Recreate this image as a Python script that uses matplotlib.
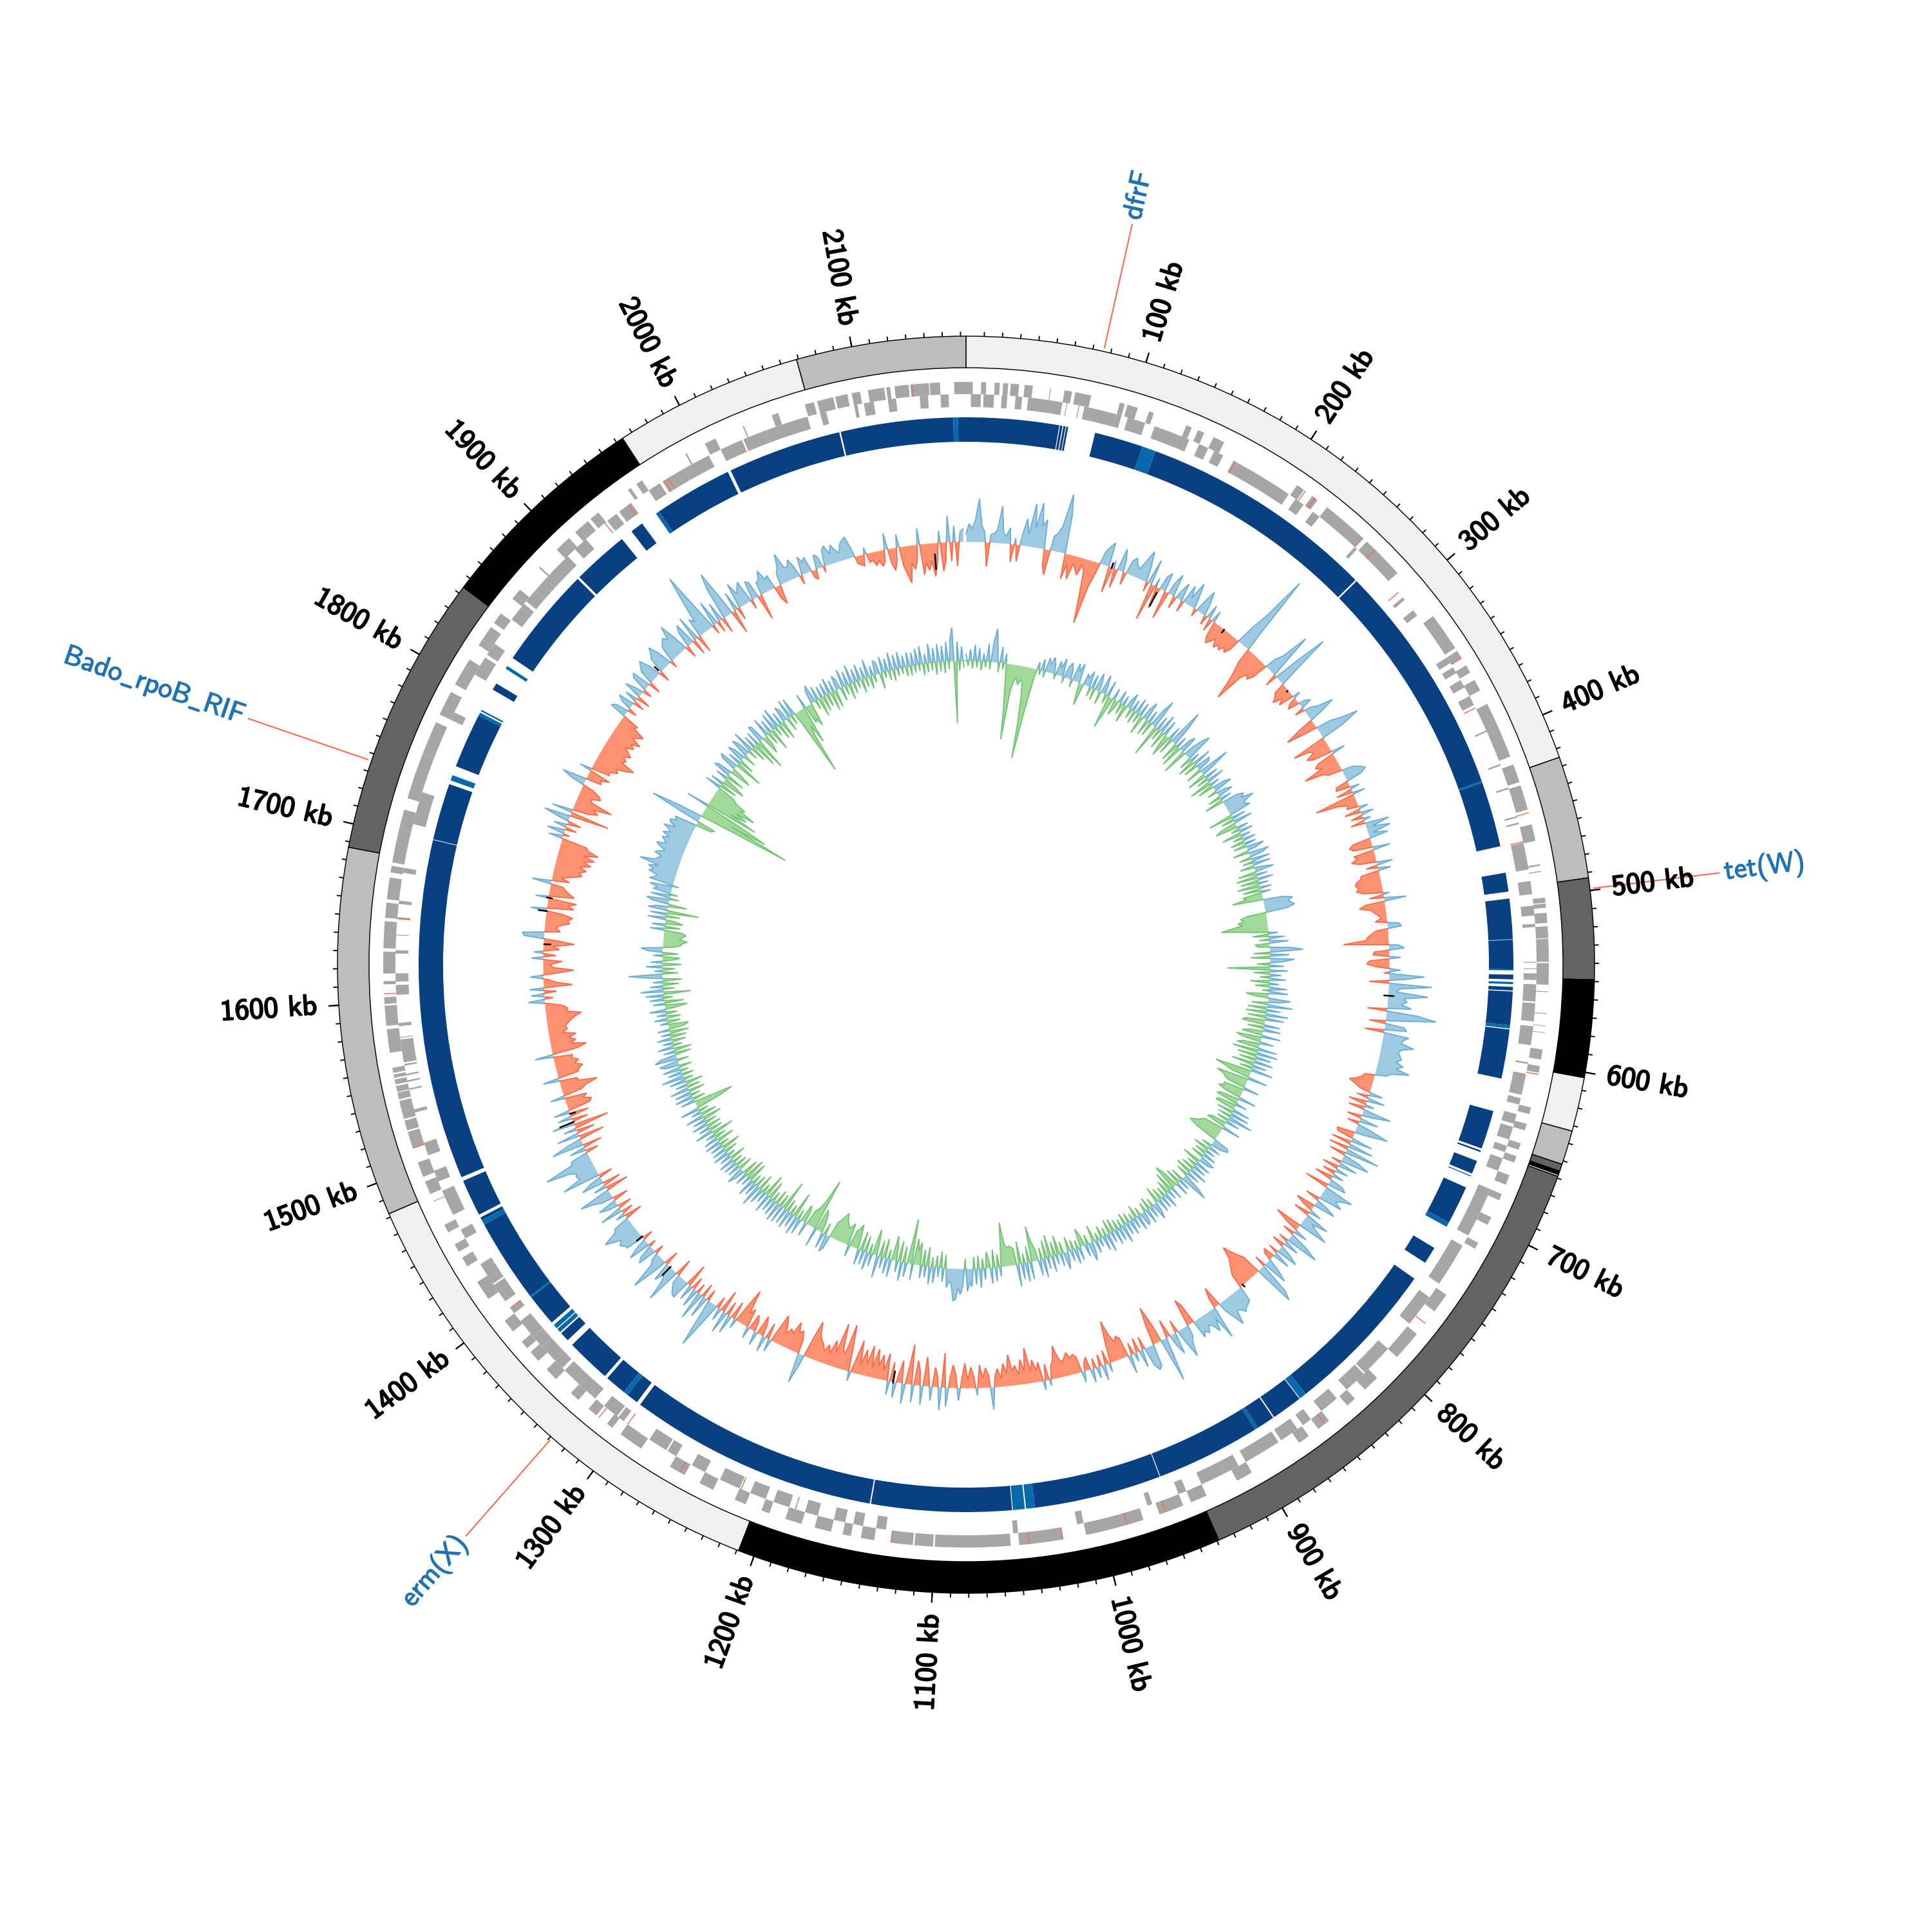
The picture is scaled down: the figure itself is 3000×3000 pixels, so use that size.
"""Circular genome map: contigs, gene lanes, homology blocks and two signal tracks."""
import matplotlib
matplotlib.use("Agg")
import matplotlib.pyplot as plt
import matplotlib.patheffects as pe
import numpy as np

GENOME_KB = 2163.0

contig_start = [0, 425, 493, 549, 603, 633, 652, 656, 658, 659, 939, 1209, 1482, 1687, 1844, 1964, 2069]
contig_end = [425, 493, 549, 603, 633, 652, 656, 658, 659, 939, 1209, 1482, 1687, 1844, 1964, 2069, 2163]
contig_shade = ["#f0f0f0", "#bdbdbd", "#636363", "#000000", "#f0f0f0", "#bdbdbd", "#636363", "#000000", "#ffffff",
                "#636363", "#000000", "#f0f0f0", "#bdbdbd", "#636363", "#000000", "#f0f0f0", "#bdbdbd"]

genes_outer = [(0, 4), (9, 12), (17, 20), (22, 25), (26.5, 31.5), (34.7, 39.6), (50, 50.5), (58.5, 63), (65, 74.5),
               (92, 95), (96.7, 103), (110, 113), (133.5, 137), (141, 145), (151, 158), (208, 213), (219, 223),
               (230, 258), (261, 287), (320, 343), (345, 350), (355, 360), (365, 372), (381, 415), (420, 431),
               (433, 448), (457, 467), (481, 482), (485, 485.6), (501, 504), (504.5, 507), (510, 516), (518, 525),
               (525.4, 539), (539.8, 552.6), (556.5, 557), (569.5, 570), (576.8, 577.2), (580.8, 581.2), (591, 597),
               (601, 605), (626, 630), (636, 640), (648, 652), (656, 660), (668, 674), (680, 684), (695, 700),
               (712, 716), (748, 760), (777, 795), (812, 822), (830, 836), (850, 858), (865, 872), (905, 915),
               (935, 945), (950, 965), (975, 1010), (1024, 1050), (1055, 1100), (1101, 1112), (1113, 1126),
               (1136, 1144), (1150, 1155), (1162, 1172), (1180, 1190), (1200, 1205), (1215, 1222), (1236, 1245),
               (1255, 1265), (1285, 1300), (1306, 1310), (1318, 1324), (1332, 1338), (1350, 1358), (1365, 1372),
               (1375, 1380), (1388, 1396), (1412, 1424), (1435, 1441), (1445, 1450), (1458, 1463), (1478, 1478.5),
               (1483, 1491), (1494, 1503), (1512, 1522), (1523, 1529), (1530, 1535), (1535, 1541), (1542, 1546),
               (1546.5, 1550), (1551, 1554), (1555, 1557), (1558, 1561), (1570, 1584), (1586, 1598), (1599, 1603),
               (1610.6, 1612.5), (1617, 1630), (1632, 1648), (1650, 1659), (1661, 1674), (1677, 1681), (1683, 1703),
               (1703, 1715), (1722, 1738), (1735, 1750), (1750, 1770), (1775, 1790), (1795, 1812), (1822, 1826),
               (1826, 1835), (1838, 1845), (1856, 1863), (1880, 1881), (1895, 1905), (1910, 1920), (1922, 1928),
               (1950, 1952), (1956, 1960), (1990, 1991), (2003, 2010), (2046, 2050), (2066.6, 2072), (2074, 2083.8),
               (2085, 2092.4), (2095, 2100), (2104.7, 2114.5), (2115.7, 2118), (2120.6, 2129), (2130, 2141),
               (2141.5, 2147.6), (2156, 2163)]
genes_inner = [(3, 9), (10.6, 17), (21.6, 25), (30, 34), (37.6, 58.5), (61, 61.5), (68.4, 69), (72, 92), (92, 95),
               (99, 110), (116, 132), (132, 138.5), (145, 151), (155, 161), (168, 207), (212, 218), (225, 230),
               (258, 260), (300, 302), (310, 314), (345, 349), (352, 356), (361, 366), (372, 378), (395, 396),
               (417, 418), (432, 433), (450, 451), (454, 455), (466.5, 467), (467, 483), (490, 498), (505, 511),
               (516, 518), (539, 539.5), (543, 543.5), (546, 550), (552.6, 563), (564, 575), (578, 589.5), (600, 601),
               (607, 620), (622, 626), (632, 638), (640, 648), (652, 656), (660, 668), (680, 711), (718, 745),
               (755, 775), (795, 815), (816, 826), (826, 830), (838, 850), (858, 864), (868, 880), (882, 905),
               (910, 920), (920, 935), (945, 950), (967, 970), (1010, 1014), (1050, 1053), (1130, 1136), (1144, 1150),
               (1155, 1162), (1172, 1180), (1190, 1200), (1205, 1215), (1222, 1235), (1245, 1254), (1265, 1271),
               (1272, 1284), (1303, 1307), (1308, 1318), (1325, 1337), (1337, 1350), (1352, 1358), (1358, 1370),
               (1370, 1378), (1378, 1390), (1396, 1400), (1405, 1417), (1418, 1432), (1450, 1456), (1466, 1482),
               (1488, 1495), (1505, 1513), (1532, 1534), (1546, 1547), (1551, 1552), (1555, 1556), (1561, 1562),
               (1563, 1577), (1578, 1578.5), (1585, 1587), (1604, 1610), (1612, 1617), (1629, 1631), (1640, 1640.5),
               (1650, 1651), (1659, 1661), (1678, 1681), (1708, 1728), (1775, 1780), (1806, 1818), (1820, 1828),
               (1846, 1858), (1860, 1868), (1868, 1878), (1878, 1897), (1903, 1912), (1929, 1936), (1938, 1947),
               (1960, 1968), (1970, 1985), (1985, 2002), (2010, 2024), (2025, 2040), (2040, 2066), (2074, 2077.7),
               (2095, 2097), (2101, 2107), (2115.7, 2120.6), (2135, 2140), (2147.6, 2152.5)]
red_genes_outer = [214, 221, 258, 268, 350, 450, 606, 769, 853, 961, 985, 1024, 1044, 1126, 1258, 1316, 1512, 1605, 2028, 2131]
red_genes_inner = [169, 296, 380, 466, 1186, 1221, 1300, 1400, 1650, 1927, 1945, 1971, 1974]

blocks_dark = [(0, 59), (59.5, 61), (61.6, 63), (63.5, 64.7), (82, 113), (121.6, 272.5), (273.5, 423), (424, 465.6),
               (482.6, 494.6), (499, 524.7), (525, 543.6), (547, 550), (554.7, 557), (557.6, 579), (581.6, 612.9),
               (634, 658.6), (660, 661), (667, 675.5), (677, 677.5), (685, 709.5), (728, 739), (751, 851), (856, 875.6),
               (876.4, 888), (890, 956.5), (957, 1038), (1052.5, 1141.6), (1142.4, 1301), (1303.5, 1311), (1314, 1327.5),
               (1329.5, 1358), (1362, 1368), (1377, 1397.5), (1398.5, 1452), (1455, 1457), (1459, 1482.5), (1485, 1701.4),
               (1701.8, 1738), (1750, 1785), (1803.5, 1808), (1827, 1891.5), (1893, 1929), (1936.7, 1945), (1958, 2008),
               (2010, 2082.5), (2083.5, 2155), (2158, 2163)]
blocks_light = [(113, 121.6), (423, 424), (543.6, 544.3), (551.6, 553), (579, 581), (709.5, 712.6), (851, 855.5),
                (888, 890), (1038, 1043.6), (1044.4, 1052), (1311, 1314), (1369, 1371.6), (1372.2, 1375), (1397.5, 1398.5),
                (1452, 1455), (1740.5, 1744), (1785, 1787), (1788, 1789), (1819, 1821), (1955.7, 1958), (2155, 2158)]

# signal tracks: one row per 100 kb, + is outward, - is inward (px)
skew_rows = [
    [12, 28, 20, 35, 67, 25, 15, -38, 12, 14, 20, 57, 16, 12, 25, -28, 10, -26, 16, 42, 18, 67, 30, 70, 35, 45, -25, -40, 22, 28, 40, 92, 60, -40, -15, -38, -12, -20, -28, -10],
    [-20, -60, -100, -40, -15, 20, 30, 38, -41, 12, -30, 35, 18, -20, 22, 28, 18, 15, 30, 48, 25, -15, 40, -58, 14, -35, 22, 30, -45, 18, 35, -20, 12, 28, -18, 30, 12, 40, 15, -12],
    [15, 38, 18, -15, 22, -20, 18, -25, -34, -28, -20, -32, -25, -30, -22, -28, -18, 30, 60, 130, 35, -25, -40, -60, -86, -40, -30, -35, -25, 18, 30, 74, 20, -20, 40, 91, 25, -18, -22, -30],
    [-15, -25, 12, -12, -18, 10, 18, -15, 12, 22, 45, 20, -25, -50, -20, 25, 40, 67, 38, -55, -30, -25, -40, -30, 22, -28, -35, -25, -58, -28, -22, 18, 28, 35, 25, -20, -22, 15, -25, 20],
    [-64, -30, -15, -18, 15, -25, 20, -18, 12, -22, 38, 10, 37, 8, 30, -28, -35, -30, 28, -32, -28, -38, -25, 25, -18, 20, -28, -30, -38, -40, -36, -40, -30, 10, -22, 35, -30, -40, -22, -18],
    [-12, -8, -18, 18, 22, -18, -25, -32, -35, -70, 15, 24, -22, -25, 18, -30, -35, -20, 18, -8, 55, 22, -30, 67, 18, 12, 62, 25, 30, 22, 38, -30, 50, 78, 28, -25, 30, 35, -30, 40],
    [32, 30, 50, 32, 28, 32, 35, 28, 40, 30, 52, 25, 18, -15, -18, -25, -36, -25, -15, 22, -18, 28, -28, 15, -25, 45, 18, -22, 30, -18, 22, 52, 18, -28, -25, 35, -30, 40, -30, 55],
    [-25, 25, 45, -15, 30, -25, 20, -20, 18, -28, 22, 30, -37, 48, 32, 25, 38, -22, 18, 35, -30, -15, 20, -25, 40, 15, 28, 48, -42, -20, 22, -18, 30, 53, -15, 25, -20, 18, 35, -15],
    [28, -18, -12, 22, 40, -18, 52, 66, -30, -40, -50, -63, -45, -38, -30, -22, 25, 28, 30, 35, 28, 25, 47, 30, 15, -32, -15, 53, 15, 35, 22, 18, 28, 22, 30, -30, -43, 18, 25, 48],
    [20, -20, 35, 18, -28, 15, 70, -25, -59, -30, 35, 40, 30, -20, 28, -22, 15, -18, 30, -30, -35, -28, -40, -65, -32, 15, -22, 25, -18, 18, -15, 22, -20, -12, 18, -25, -30, -25, -35, -28],
    [-22, -30, -50, -28, -20, 10, -25, 15, -30, -18, -35, -18, -55, -20, -38, -15, -30, -22, -48, -20, -35, -12, -28, -15, 35, -18, -30, -14, -35, 12, -18, -32, -12, -38, -14, 20, -20, -35, -12, 30],
    [-53, 36, -15, -30, 22, -18, -45, 30, -22, -38, 28, -62, -18, 32, -35, -12, 25, -30, 22, -42, -15, -38, -20, -45, -15, -48, -18, -40, -14, -52, -20, 15, -35, -72, -25, -30, -70, -22, -40, -18],
    [-30, -18, -28, -32, -40, -59, -30, 15, 47, -22, -35, -30, -45, -25, -30, -20, -35, -46, -18, 20, -25, 25, -18, -30, 22, -15, -25, 18, -30, -20, -57, -25, 15, -28, 30, -22, 35, -35, 20, -18],
    [30, 77, 25, -18, 35, -22, 45, -15, 30, -20, 25, -36, 30, 28, 22, 15, -28, 56, 25, 15, 30, -23, 25, 59, 18, 12, -15, 30, 22, -12, 35, 18, -17, 28, 30, 35, 28, 40, 52, 30],
    [25, -28, 15, -18, 36, -22, 15, 30, -25, 18, 30, 51, -36, 20, -28, 35, 18, -22, 60, 28, 32, 30, 40, 76, 30, 28, -20, 25, -30, 50, 22, -40, 35, -28, 20, -55, 35, -25, 22, -30],
    [25, -35, -40, -28, -35, 22, -30, -38, -58, -30, -28, 25, -32, -35, -42, -30, -38, -28, -30, 28, -40, -55, -32, -40, -30, -42, -22, -30, -28, -32, -38, -45, -55, -32, -35, -28, -10, 25, -14, 20],
    [-20, 22, -45, -20, -8, 20, -18, -48, -15, -12, -30, 18, -20, 14, -25, -15, -48, -18, 30, 34, -25, -18, -22, -38, -35, -42, -25, 25, -42, -32, -45, 20, -40, -32, -25, -20, 30, -28, -15, -32],
    [-45, -40, -50, -38, -55, -42, -58, -40, -62, -45, -40, 22, -10, 28, -18, 20, -22, 15, 41, -62, 32, -25, -40, -30, -59, -25, -20, -35, -30, -18, 20, 38, -25, -22, -35, 18, -30, -28, -40, -35],
    [-50, -61, -38, -42, -35, -45, -38, -30, -42, -35, -48, -32, -38, -45, -25, -28, 26, 20, -15, 15, 25, -18, 20, -22, 28, 12, -15, 25, 30, -20, 22, 28, 35, 18, -18, 24, 30, 39, 22, -12],
    [25, 30, 35, 28, 49, 22, -20, 25, 35, -25, 40, -28, 30, 22, 60, 98, 35, -15, 40, -18, 30, -25, 50, 75, 25, -38, 30, -20, 40, 20, 28, 35, -15, 30, 25, -41, 20, 22, 35, 18],
    [22, -20, -31, 18, 25, 46, 22, 20, 30, 15, -15, 28, 18, 24, -12, -16, 22, 18, -10, 25, 30, 15, 28, 18, 12, 25, 30, 33, 14, -12, -15, -18, 10, -15, -12, -22, -15, -25, -18, 25],
    [-22, -35, -20, 20, -30, -45, -58, -28, -38, -25, 25, -48, -30, -42, -28, -52, -30, 18, -45, -28, 41, -30, 25, -38, 15, 20],
]
ratio_rows = [
    [10, -8, 18, -12, 25, -10, 20, -14, 12, -9, 28, -12, 30, 52, 18, -15, 25, -10, 15, -30, -70, -118, -40, -25, -20, -30, -22, -25, -50, -90, -143, -70, -15, 12, -8, 18, -10, 22, 12, 25],
    [15, -8, 22, 12, 28, -10, 18, 25, 14, -12, 28, 16, 30, -14, -35, 18, 12, 25, -15, 22, -18, 28, 15, -20, 30, 12, -14, 25, -52, -22, 18, -25, -12, 20, -18, 15, -28, 12, 25, -15],
    [18, -20, 25, -15, 22, -30, 18, 30, -25, 20, -22, 28, 46, -51, 22, -18, 30, -28, 25, -15, -35, 22, -25, 58, 30, -30, 18, -35, 20, 28, -40, 18, 35, 44, -20, 15, -28, 30, -22, 25],
    [20, -25, 50, 18, -30, 22, -18, 28, -35, 15, -25, 20, 30, -15, 14, 25, -20, 18, -30, 25, 35, 28, 47, 30, 28, 35, -38, 22, -20, 30, -25, -35, 18, -12, 22, -30, 15, -15, 20, -22],
    [18, -20, 28, 15, -25, 32, 20, -18, 30, -15, 28, -22, 12, 30, -28, 18, -33, 25, -28, 15, -35, 18, -28, 15, -30, -25, -48, 30, 46, 38, 42, 47, 35, -30, -40, -35, -45, -38, -55, -72],
    [-45, -20, 15, -25, 25, -15, 30, -22, -18, 35, 52, -25, 30, -30, 38, 20, -20, 22, -66, 28, -25, 18, -15, 25, -30, 15, -22, 28, -10, 30, -35, -22, 35, 18, -25, 40, -30, 22, -32, 35],
    [-28, 30, -30, -35, 25, -25, 28, -20, -32, 30, -39, -28, 22, -25, -35, 30, -40, 33, -30, 25, -25, 30, -35, 22, -20, 35, -57, -40, -30, 31, -50, -38, -35, -28, 25, -32, -30, -38, -25, 28],
    [-30, -35, 18, -28, -32, 28, -25, 30, -20, 40, -18, 22, -25, -30, 30, -30, -35, -38, -45, -50, -35, 25, 28, 18, -15, 20, -25, 15, -18, 22, -20, 25, 18, -28, 25, -15, 22, -20, 30, -25],
    [22, -18, 28, 46, -20, 18, -25, 22, -28, -40, 20, -32, 15, -22, 25, -15, 20, -18, 22, -25, 15, 28, -12, 20, -18, 25, -14, 18, 22, -12, 25, -20, 18, -10, 24, -15, 20, -18, 30, -12],
    [22, -15, 25, -20, 18, -22, 30, -12, 24, -18, 15, -10, 22, -25, 18, 30, -14, 20, -18, -28, 22, -12, 25, -15, 18, -22, 14, 28, -18, 20, -30, 15, -22, 25, -35, 18, -28, 30, -18, 25],
    [-18, -30, -55, 28, -25, 30, -15, 25, -35, 35, -25, -28, -30, -28, -35, -68, -30, 15, -20, 22, -28, 25, -12, -25, 18, -15, 30, -20, 25, -18, 28, 22, 35, -15, 28, 40, 30, 48, 50, 25],
    [20, 30, -20, 22, -25, 15, -18, 25, -15, 28, -30, 18, -25, 20, -35, -22, -40, 25, -70, -18, 22, -25, 30, -32, 18, -22, -38, 28, -15, 25, -30, 18, -25, 35, -18, -40, 20, -15, 28, -25],
    [22, -30, 25, -15, -38, -30, -25, 18, -35, -28, -25, -30, -35, -45, -38, -30, -25, 20, 28, -18, 25, -15, -30, -35, 30, -82, -45, -30, -25, 22, -20, -28, 25, -15, 30, -40, 22, -15, 28, -20],
    [25, -47, 28, -20, 30, -22, 25, -15, 22, -28, 30, -35, 18, -14, 25, -25, 35, -18, 22, -15, 28, -30, 15, -32, 20, -25, 15, 28, -22, 20, -18, 22, -15, 25, -25, 18, -12, 25, -20, 22],
    [-30, 20, -15, 25, -28, 22, -18, 15, -35, 28, -20, 18, -22, 25, -18, 20, -30, 28, -25, 15, -15, 30, -40, -62, -25, 22, -20, 28, -15, 25, -25, 30, -20, 18, -28, 25, -15, 35, -18, 22],
    [-12, 28, -20, 22, 30, -18, 35, 25, -25, 18, -28, 25, -15, 15, -22, 22, -25, 14, -30, 18, -25, -32, 12, -20, 20, -22, 15, -18, 25, -15, -35, 18, -30, 22, -14, 28, -43, 35, -18, 20],
    [-25, 15, -30, 18, 52, -25, 12, -20, 25, -30, 18, -15, -28, 14, -25, 22, 33, -15, -28, -30, -38, -25, -30, -35, -28, 22, -25, 20, -28, -15, 28, -22, 25, -50, 30, 18, -30, 25, 35, -15],
    [30, -12, 28, 22, 35, -10, 38, 30, 28, 42, 35, 45, 30, 61, 38, 35, 30, 42, 35, 28, 38, 45, 30, 35, 40, 30, 42, 32, 35, 45, 28, 38, 40, 30, 35, -25, -30, 30, 82, 35],
    [-60, -148, -50, -108, -70, 35, -85, -40, -65, -45, -75, -48, -55, -35, -30, 25, -28, 20, -38, -22, 18, -30, 28, 22, -35, -18, 25, 30, -45, 20, -25, 28, 18, -20, 30, 22, -15, 35, -25, 20],
    [-40, 22, -50, 28, 25, -30, -18, 30, -20, 22, -35, 28, -15, 32, -25, 20, -30, 25, 18, -22, 30, -15, 28, -18, -107, -45, -30, -60, 22, -30, -25, -38, 20, 28, -15, 22, -30, 18, -25, 20],
    [-20, 25, -30, 18, -28, 22, 15, -22, 28, -15, 22, -25, 30, -18, 20, -12, 25, -22, 18, -15, 28, -20, 15, -12, 22, 18, -25, 25, -10, 20, -15, 28, -18, 22, -12, 25, -10, 18, -15, 22],
    [-15, 20, -12, 25, -10, 28, -18, 15, -14, 30, -12, 22, -20, 28, -15, 25, -18, 30, -12, 35, 52, -97, 30, -15, 22, -10],
]
black_kb = [2137, 121, 163, 226, 298, 566, 836, 1141, 1348, 1382, 1677, 1666, 1639, 1498, 1491, 1885]
black_in = [615, 655, 625, 650, 653, 650, 655, 640, 655, 655, 650, 655, 645, 648, 655, 660]
black_out = [640, 665, 650, 658, 657, 667, 662, 660, 675, 668, 660, 670, 657, 658, 680, 670]

amr_kb = [76, 499, 1329, 1736]
amr_names = ["dfrF", "tet(W)", "erm(X)", r"$\mathsf{Bado\_rpoB\_RIF}$"]
tick_labels = list(range(100, 2200, 100))

R_SKEW, R_RATIO = 657, 472
BLUE_LINE, BLUE_FILL = "#6baed6", "#9ecae1"
RED_LINE, RED_FILL = "#fb6a4a", "#fc9272"
GREEN_LINE, GREEN_FILL = "#74c476", "#a1d99b"
LABEL_FONT = ["cmss10", "DejaVu Sans"]
plt.rcParams["mathtext.fontset"] = "cm"


def rad(kb):
    return np.asarray(kb, dtype=float) / GENOME_KB * 2 * np.pi


def rows_to_track(rows):
    xs, ys = [], []
    for i, row in enumerate(rows):
        span = GENOME_KB - 2100 if i == len(rows) - 1 else 100
        xs.extend(i * 100 + span * np.arange(len(row)) / len(row))
        ys.extend(row)
    return np.array(xs), np.array(ys, dtype=float)


def with_crossings(kb, vals):
    # put a zero where the sign flips so up and down spikes stay apart
    out_kb, out_vals = [kb[0]], [vals[0]]
    for i in range(1, len(kb)):
        a, b = vals[i - 1], vals[i]
        if a * b < 0:
            out_kb.append(kb[i - 1] + (kb[i] - kb[i - 1]) * a / (a - b))
            out_vals.append(0.0)
        out_kb.append(kb[i])
        out_vals.append(b)
    return np.array(out_kb), np.array(out_vals)


def draw_track(ax, rows, base, up_colors, down_colors):
    kb, vals = with_crossings(*rows_to_track(rows))
    th = rad(kb)
    for part, (line, fill) in ((np.clip(vals, 0, None), up_colors), (np.clip(vals, None, 0), down_colors)):
        ax.fill_between(th, base, base + part, color=fill, lw=0)
        idle = (part == 0) & (np.roll(part, 1) == 0) & (np.roll(part, -1) == 0)
        ax.plot(th, np.ma.masked_where(idle, base + part), color=line, lw=0.45, solid_joinstyle="miter")


def draw_runs(ax, runs, r_in, r_out, color):
    starts = np.array([r[0] for r in runs])
    ends = np.array([r[1] for r in runs])
    ax.bar(rad(starts), r_out - r_in, width=rad(ends - starts), bottom=r_in, align="edge", color=color, lw=0)


fig = plt.figure(figsize=(10, 10), dpi=300)
ax = fig.add_axes([0, 2 / 3000, 1, 1], projection="polar")
ax.set_theta_zero_location("N")
ax.set_theta_direction(-1)

# contig ring
starts, ends = np.array(contig_start), np.array(contig_end)
ax.bar(rad(starts), 976 - 927, width=rad(ends - starts), bottom=927, align="edge",
       color=contig_shade, edgecolor="black", lw=0.35)

# ruler
minor = np.arange(10, 2170, 10)
major = np.arange(100, 2170, 100)
ax.vlines(rad(minor), 976, 983, color="black", lw=0.45)
ax.vlines(rad(major), 976, 992, color="black", lw=0.55)
for kb in tick_labels:
    deg = kb / GENOME_KB * 360
    right = deg < 180
    ax.text(rad(kb), 1010, f"{kb} kb", rotation=90 - deg if right else 270 - deg, rotation_mode="anchor",
            ha="left" if right else "right", va="center", fontsize=10.8, family=LABEL_FONT, color="black",
            path_effects=[pe.withStroke(linewidth=0.5, foreground="black")])

# AMR labels
for kb, name in zip(amr_kb, amr_names):
    deg = kb / GENOME_KB * 360
    right = deg < 180
    ax.plot([rad(kb), rad(kb)], [982, 1178], color="#fb6a4a", lw=0.5)
    ax.text(rad(kb), 1186, name, rotation=90 - deg if right else 270 - deg, rotation_mode="anchor",
            ha="left" if right else "right", va="center", fontsize=10.5, family=LABEL_FONT, color="#2171b5",
            path_effects=[pe.withStroke(linewidth=0.3, foreground="#2171b5")])

# gene lanes
draw_runs(ax, genes_outer, 886, 905, "#a6a6a6")
draw_runs(ax, genes_inner, 866, 886, "#a6a6a6")
ax.vlines(rad(red_genes_outer), 886, 905, color="#fb6a4a", lw=0.35)
ax.vlines(rad(red_genes_inner), 866, 886, color="#fb6a4a", lw=0.35)

# homology blocks
draw_runs(ax, blocks_dark, 812, 850, "#084081")
draw_runs(ax, blocks_light, 812, 850, "#0868ac")

# signal tracks
draw_track(ax, skew_rows, R_SKEW, (BLUE_LINE, BLUE_FILL), (RED_LINE, RED_FILL))
draw_track(ax, ratio_rows, R_RATIO, (BLUE_LINE, BLUE_FILL), (GREEN_LINE, GREEN_FILL))
ax.vlines(rad(black_kb), black_in, black_out, color="black", lw=0.6)

ax.set_rlim(0, 1500)
ax.axis("off")
fig.savefig("out.png", dpi=300)
